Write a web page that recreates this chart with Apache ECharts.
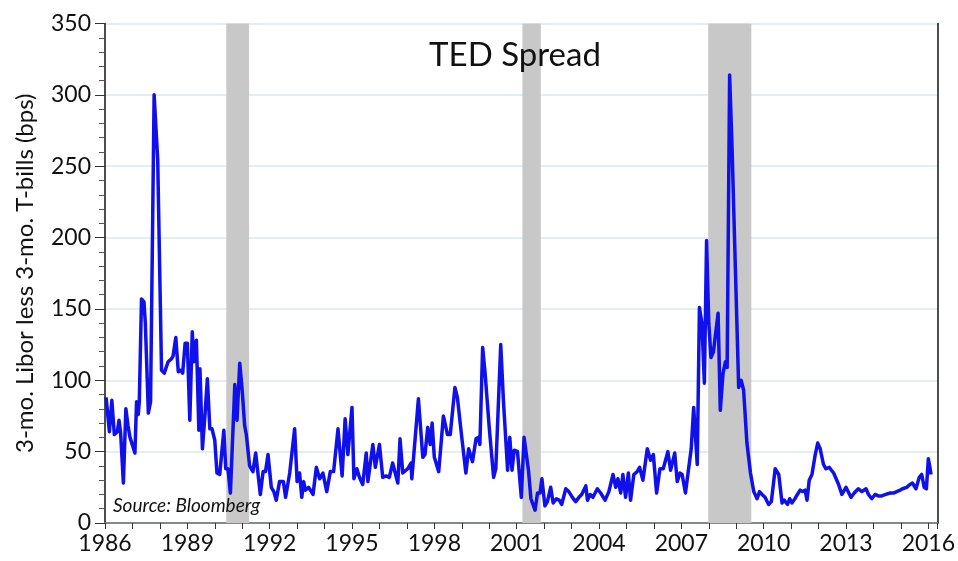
<!DOCTYPE html>
<html>
<head>
<meta charset="utf-8">
<script src="https://cdn.jsdelivr.net/npm/echarts@6/dist/echarts.min.js"></script>
<style>
  html, body { margin: 0; padding: 0; background: #ffffff; }
  #chart { width: 958px; height: 561px; }
</style>
</head>
<body>
<div id="chart"></div>
<script>
// TED spread: 3-month Libor less 3-month T-bill yield, basis points
const dates = [
  1986.04, 1986.16, 1986.25, 1986.34, 1986.45, 1986.51, 1986.57, 1986.67, 1986.76, 1986.84,
  1986.91, 1987.09, 1987.15, 1987.21, 1987.25, 1987.33, 1987.42, 1987.47, 1987.58, 1987.66,
  1987.79, 1987.92, 1988.06, 1988.16, 1988.30, 1988.42, 1988.48, 1988.58, 1988.67, 1988.75,
  1988.83, 1988.92, 1989.00, 1989.09, 1989.18, 1989.24, 1989.33, 1989.42, 1989.46, 1989.55,
  1989.64, 1989.73, 1989.82, 1989.90, 1990.00, 1990.08, 1990.18, 1990.33, 1990.40, 1990.48,
  1990.57, 1990.73, 1990.81, 1990.91, 1990.99, 1991.09, 1991.15, 1991.27, 1991.39, 1991.49,
  1991.66, 1991.76, 1991.85, 1991.94, 1992.06, 1992.15, 1992.24, 1992.36, 1992.50, 1992.58,
  1992.73, 1992.91, 1993.00, 1993.09, 1993.17, 1993.24, 1993.30, 1993.42, 1993.58, 1993.70,
  1993.82, 1993.94, 1994.08, 1994.21, 1994.33, 1994.49, 1994.64, 1994.75, 1994.85, 1994.92,
  1995.00, 1995.07, 1995.18, 1995.27, 1995.39, 1995.52, 1995.58, 1995.76, 1995.85, 1996.00,
  1996.12, 1996.24, 1996.36, 1996.48, 1996.67, 1996.75, 1996.85, 1997.03, 1997.15, 1997.18,
  1997.42, 1997.58, 1997.66, 1997.76, 1997.85, 1997.92, 1998.00, 1998.16, 1998.33, 1998.48,
  1998.58, 1998.75, 1998.84, 1999.00, 1999.15, 1999.25, 1999.39, 1999.52, 1999.60, 1999.66,
  1999.76, 1999.85, 2000.00, 2000.16, 2000.24, 2000.42, 2000.52, 2000.67, 2000.75, 2000.83,
  2000.91, 2001.03, 2001.17, 2001.27, 2001.43, 2001.52, 2001.67, 2001.76, 2001.85, 2001.92,
  2002.03, 2002.12, 2002.24, 2002.33, 2002.45, 2002.55, 2002.64, 2002.79, 2002.90, 2003.03,
  2003.15, 2003.27, 2003.37, 2003.52, 2003.58, 2003.68, 2003.78, 2003.94, 2004.06, 2004.22,
  2004.36, 2004.51, 2004.61, 2004.69, 2004.79, 2004.87, 2004.97, 2005.07, 2005.15, 2005.27,
  2005.39, 2005.48, 2005.60, 2005.76, 2005.88, 2005.98, 2006.10, 2006.22, 2006.34, 2006.51,
  2006.61, 2006.68, 2006.76, 2006.85, 2006.95, 2007.03, 2007.15, 2007.36, 2007.45, 2007.58,
  2007.66, 2007.75, 2007.84, 2007.92, 2008.00, 2008.08, 2008.17, 2008.34, 2008.42, 2008.52,
  2008.61, 2008.67, 2008.76, 2008.85, 2008.97, 2009.09, 2009.18, 2009.27, 2009.39, 2009.52,
  2009.64, 2009.76, 2009.85, 2009.94, 2010.05, 2010.18, 2010.28, 2010.42, 2010.55, 2010.67,
  2010.75, 2010.87, 2010.95, 2011.03, 2011.14, 2011.23, 2011.33, 2011.42, 2011.51, 2011.58,
  2011.66, 2011.76, 2011.88, 2011.97, 2012.06, 2012.18, 2012.27, 2012.39, 2012.47, 2012.55,
  2012.62, 2012.73, 2012.85, 2013.00, 2013.18, 2013.30, 2013.45, 2013.58, 2013.73, 2013.82,
  2013.94, 2014.06, 2014.18, 2014.30, 2014.45, 2014.61, 2014.73, 2014.85, 2014.97, 2015.06,
  2015.21, 2015.33, 2015.42, 2015.55, 2015.67, 2015.76, 2015.85, 2015.93, 2016.00, 2016.05,
  2016.10
];

const spread = [
  88, 64, 86, 62, 64, 72, 63, 28, 80, 68,
  60, 49, 85, 76, 85, 157, 155, 140, 77, 85,
  300, 255, 107, 105, 113, 115, 117, 130, 106, 107,
  105, 126, 126, 72, 134, 113, 128, 65, 108, 52,
  75, 101, 66, 66, 58, 35, 34, 65, 38, 38,
  21, 97, 72, 112, 95, 68, 62, 40, 36, 49,
  20, 36, 36, 48, 25, 22, 16, 29, 29, 18,
  35, 66, 29, 35, 18, 29, 23, 25, 20, 39,
  31, 35, 22, 36, 36, 66, 33, 73, 48, 47,
  81, 31, 38, 32, 27, 49, 29, 55, 39, 55,
  32, 33, 32, 42, 28, 59, 35, 38, 42, 31,
  87, 46, 48, 67, 55, 70, 46, 36, 75, 62,
  62, 95, 88, 60, 35, 52, 43, 59, 60, 55,
  123, 105, 67, 32, 38, 125, 85, 37, 60, 37,
  51, 50, 18, 60, 37, 17, 9, 21, 21, 31,
  12, 15, 25, 14, 17, 16, 13, 24, 22, 18,
  15, 18, 20, 26, 16, 20, 18, 24, 21, 16,
  22, 34, 25, 31, 21, 34, 18, 35, 16, 34,
  36, 39, 30, 52, 44, 48, 21, 38, 38, 50,
  37, 37, 49, 29, 35, 34, 21, 52, 81, 41,
  151, 140, 98, 198, 140, 116, 120, 147, 79, 105,
  113, 109, 314, 262, 178, 95, 100, 93, 56, 35,
  22, 17, 22, 20, 18, 13, 15, 38, 34, 14,
  16, 13, 17, 14, 17, 20, 23, 22, 23, 16,
  30, 34, 48, 56, 52, 41, 38, 39, 37, 35,
  34, 27, 20, 25, 18, 21, 24, 22, 24, 20,
  17, 20, 19, 19, 20, 21, 21, 22, 23, 24,
  25, 27, 28, 24, 32, 34, 25, 24, 45, 40,
  34
];

// NBER recessions shaded behind the line
const recessionStart = [1990.42, 2001.21, 2007.98];
const recessionEnd   = [1991.25, 2001.88, 2009.55];

const yearTicks = [1986, 1989, 1992, 1995, 1998, 2001, 2004, 2007, 2010, 2013, 2016];

const FONT = 'Lato, "Open Sans", sans-serif';

const chart = echarts.init(document.getElementById('chart'), null, { renderer: 'canvas' });

const lineData = dates.map((d, i) => [d, spread[i]]);
const bands = recessionStart.map((s, i) => [{ xAxis: s }, { xAxis: recessionEnd[i] }]);

chart.setOption({
  animation: false,
  backgroundColor: '#ffffff',
  title: {
    text: 'TED Spread',
    left: 510,
    top: 34,
    textAlign: 'center',
    textStyle: { fontFamily: FONT, fontSize: 33, fontWeight: 'normal', color: '#111111' }
  },
  graphic: [{
    type: 'text',
    left: 113,
    top: 496,
    z: 100,
    style: {
      text: 'Source: Bloomberg',
      fontFamily: FONT,
      fontStyle: 'italic',
      fontSize: 19,
      fill: '#111111'
    }
  }],
  grid: { left: 105, right: 19, top: 23.5, bottom: 38, containLabel: false },
  xAxis: [{
    type: 'value',
    min: 1986,
    max: 2016.33,
    interval: 3,
    axisLine: { show: true, lineStyle: { color: '#111111', width: 2 } },
    axisTick: { show: true, length: 6, lineStyle: { color: '#333333', width: 1 } },
    minorTick: { show: true, splitNumber: 3, length: 6, lineStyle: { color: '#333333', width: 1 } },
    axisLabel: {
      margin: 9,
      fontFamily: FONT,
      fontSize: 23,
      color: '#111111',
      formatter: v => (yearTicks.indexOf(Math.round(v)) >= 0 && Math.abs(v - Math.round(v)) < 1e-6) ? String(Math.round(v)) : ''
    },
    splitLine: { show: false }
  }, {
    type: 'value',
    position: 'top',
    min: 1986,
    max: 2016.33,
    axisLine: { show: true, lineStyle: { color: '#7f8b8b', width: 2 } },
    axisTick: { show: false },
    axisLabel: { show: false },
    splitLine: { show: false }
  }],
  yAxis: [{
    type: 'value',
    min: 0,
    max: 350,
    interval: 50,
    name: '3-mo. Libor less 3-mo. T-bills (bps)',
    nameLocation: 'middle',
    nameGap: 68,
    nameTextStyle: { fontFamily: FONT, fontSize: 24, color: '#111111' },
    axisLine: { show: true, lineStyle: { color: '#111111', width: 1.5 } },
    axisTick: { show: true, length: 10, lineStyle: { color: '#333333', width: 1 } },
    minorTick: { show: true, splitNumber: 5, length: 6, lineStyle: { color: '#555555', width: 1 } },
    axisLabel: { margin: 14, fontFamily: FONT, fontSize: 23, color: '#111111' },
    splitLine: { show: true, lineStyle: { color: '#dbe9ee', width: 1.5 } }
  }, {
    type: 'value',
    position: 'right',
    min: 0,
    max: 350,
    axisLine: { show: true, lineStyle: { color: '#111111', width: 1.5 } },
    axisTick: { show: false },
    axisLabel: { show: false },
    splitLine: { show: false }
  }],
  series: [{
    type: 'line',
    data: lineData,
    showSymbol: false,
    lineStyle: { color: '#1010ea', width: 3.5, join: 'round' },
    z: 5,
    markArea: {
      silent: true,
      itemStyle: { color: '#c8c8c8', opacity: 1 },
      data: bands
    }
  }]
});
</script>
</body>
</html>
